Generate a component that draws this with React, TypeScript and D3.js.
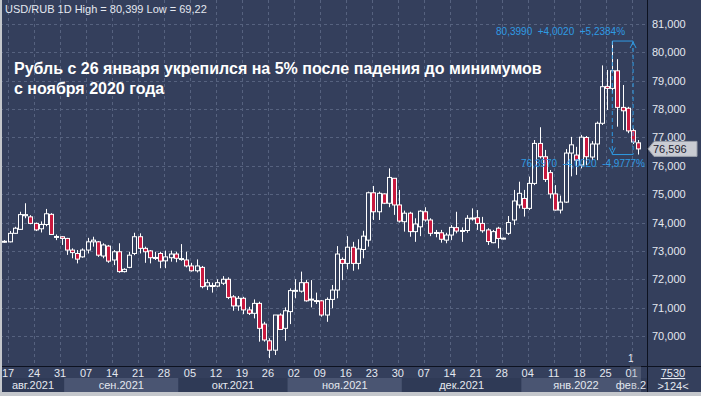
import * as d3 from "d3";

// daily USD/RUB candles, 16 Aug 2021 .. 2 Feb 2022 (trading days)
const startDay = new Date(2021, 7, 16);
const endDay = new Date(2022, 1, 3);

const open = [
  73.31, 73.32, 73.62, 73.76, 74.24, 74.2, 73.97, 73.78, 73.93, 74.29,
  73.49, 73.5, 73.44, 73.03, 72.91, 72.79, 73.03, 73.32, 73.32, 72.82,
  73.17, 72.68, 72.97, 72.27, 72.42, 72.91, 73.5, 73.09, 73.0, 72.76,
  72.91, 72.65, 72.76, 72.89, 72.72, 72.68, 72.47, 72.3, 72.42, 71.76,
  71.78, 71.76, 71.86, 72.0, 71.38, 71.06, 71.33, 70.92, 70.8, 71.15,
  70.42, 69.83, 69.5, 70.74, 70.27, 70.86, 71.58, 71.58, 71.88, 71.28,
  71.25, 71.24, 70.74, 71.29, 71.62, 72.7, 72.56, 73.13, 72.56, 73.05,
  73.38, 75.05, 74.38, 75.01, 74.68, 75.56, 74.62, 74.03, 74.33, 73.68,
  73.85, 74.38, 74.09, 73.64, 73.64, 73.38, 73.56, 73.82, 73.7, 73.72,
  74.14, 74.17, 73.97, 73.74, 73.29, 73.8, 73.44, 73.62, 74.09, 74.62,
  74.85, 74.5, 75.38, 76.79, 76.32, 75.76, 75.01, 74.44, 74.72, 76.45,
  76.38, 76.03, 77.0, 76.31, 76.77, 77.5, 78.8, 78.73, 79.35, 78.06,
  78.03, 77.24, 76.81,
];
const high = [
  73.38, 73.7, 73.85, 74.38, 74.68, 74.26, 74.0, 74.04, 74.48, 74.33,
  73.58, 73.52, 73.46, 73.09, 73.03, 73.09, 73.46, 73.5, 73.35, 73.27,
  73.21, 73.03, 73.27, 72.39, 72.97, 73.64, 73.62, 73.15, 73.03, 72.97,
  72.97, 73.01, 73.01, 72.97, 73.24, 72.97, 72.58, 72.7, 72.47, 72.0,
  71.88, 72.0, 72.11, 72.07, 71.44, 71.41, 71.38, 71.03, 71.29, 71.21,
  70.5, 69.92, 70.74, 70.8, 71.01, 71.68, 72.0, 72.27, 71.97, 71.97,
  71.53, 71.27, 71.36, 71.8, 73.17, 72.77, 73.52, 73.32, 73.41, 73.71,
  75.09, 75.29, 75.09, 75.03, 75.91, 75.56, 75.15, 74.42, 74.38, 74.15,
  74.44, 74.54, 74.15, 73.74, 73.74, 73.64, 73.91, 74.38, 73.83, 74.26,
  74.5, 74.44, 74.2, 73.8, 73.74, 73.85, 73.47, 74.23, 75.15, 75.44,
  75.15, 75.62, 76.91, 77.36, 76.56, 75.85, 75.32, 74.95, 76.59, 77.02,
  76.67, 77.09, 77.05, 76.87, 77.56, 79.54, 79.38, 80.399, 79.76, 78.85,
  78.08, 77.32, 76.91,
];
const low = [
  73.28, 73.3, 73.6, 73.74, 74.15, 73.94, 73.7, 73.65, 73.87, 73.56,
  73.38, 73.21, 72.86, 72.74, 72.56, 72.76, 72.91, 73.15, 72.79, 72.74,
  72.58, 72.5, 72.23, 72.24, 72.39, 72.85, 72.91, 72.58, 72.56, 72.68,
  72.39, 72.39, 72.62, 72.6, 72.65, 72.42, 72.27, 72.24, 71.68, 71.62,
  71.53, 71.72, 71.8, 71.3, 70.89, 70.89, 70.77, 70.74, 70.62, 69.8,
  69.8, 69.22, 69.33, 70.21, 69.83, 70.42, 71.33, 71.53, 71.21, 71.01,
  71.13, 70.68, 70.5, 70.98, 71.33, 71.97, 72.35, 72.3, 72.35, 72.74,
  73.15, 74.09, 74.09, 74.65, 74.54, 74.27, 74.0, 73.68, 73.5, 73.32,
  73.52, 74.03, 73.52, 73.48, 73.29, 73.27, 73.38, 73.62, 73.32, 73.64,
  74.07, 73.74, 73.64, 73.21, 73.27, 73.09, 73.4, 73.56, 73.91, 74.5,
  74.21, 74.44, 75.32, 76.26, 75.43, 74.85, 74.42, 74.32, 74.69, 75.63,
  75.68, 75.91, 76.03, 76.2, 76.2, 77.44, 77.97, 78.56, 77.38, 77.26,
  77.15, 76.77, 76.397,
];
const close = [
  73.34, 73.62, 73.8, 74.28, 74.28, 73.97, 73.74, 73.93, 74.31, 73.58,
  73.51, 73.44, 73.03, 72.94, 72.71, 73.03, 73.32, 73.38, 72.85, 73.21,
  72.64, 72.97, 72.27, 72.35, 72.85, 73.5, 73.09, 72.97, 72.76, 72.77,
  72.64, 72.79, 72.89, 72.74, 72.73, 72.47, 72.3, 72.47, 71.74, 71.88,
  71.77, 71.88, 72.0, 71.36, 71.06, 71.33, 70.92, 70.8, 71.15, 70.27,
  69.86, 69.5, 70.74, 70.23, 70.89, 71.6, 71.61, 71.88, 71.24, 71.3,
  71.23, 70.74, 71.29, 71.62, 72.89, 72.56, 73.13, 72.56, 73.07, 73.52,
  75.05, 74.38, 75.03, 74.68, 75.59, 74.62, 74.05, 74.33, 73.68, 73.95,
  74.4, 74.09, 73.62, 73.65, 73.41, 73.56, 73.83, 73.7, 73.72, 74.15,
  74.16, 73.97, 73.71, 73.33, 73.68, 73.44, 73.45, 74.0, 74.76, 75.03,
  74.5, 75.38, 76.79, 76.32, 75.52, 75.01, 74.44, 74.72, 76.45, 76.74,
  76.2, 77.01, 76.32, 76.77, 77.5, 78.79, 78.73, 79.35, 78.06, 77.94,
  77.23, 76.84, 76.596,
];

const yTicks = [70, 71, 72, 73, 74, 75, 76, 77, 78, 79, 80, 81];
const monthNames = ["янв", "фев", "мар", "апр", "май", "июн", "июл", "авг", "сен", "окт", "ноя", "дек"];

const titleLines = [
  "Рубль с 26 января укрепился на 5% после падения до минимумов",
  "с ноября 2020 года",
];
const header = "USD/RUB 1D High = 80,399 Low = 69,22";
const lastPrice = 76.596;

// measure annotation (from the 80,399 high down to 76,397)
const measureFrom = 117;
const measureTo = 121;
const measureHigh = 80.399;
const measureLow = 76.397;
const measureTop = "80,3990  +4,0020  +5,2384%";
const measureBottom = "76,3970  -4,0020  -4,9777%";

const W = 701;
const H = 396;
const plotRight = 647;
const plotBottom = 366;

const BG = "#343f5c";
const GRID = "#56627f";
const RED = "#c9193f";
const TXT = "#e4e8f0";
const BLUE = "#2f9be3";
const FONT = "'Liberation Sans', Arial, sans-serif";

const ru = d3.formatLocale({ decimal: ",", thousands: "\u00a0", grouping: [3], currency: ["", ""] });
const fmt3 = ru.format(".3f");

export default function App() {
  const days = d3.timeDay
    .range(startDay, endDay)
    .filter((d) => d.getDay() !== 0 && d.getDay() !== 6);
  const candles = days.map((d, i) => ({
    date: d,
    o: open[i],
    h: high[i],
    l: low[i],
    c: close[i],
  }));

  const x = d3
    .scaleBand<Date>()
    .domain(days)
    .range([2.4, 640.3])
    .paddingInner(0.22);
  const step = x.step();
  const cx = (d: Date) => (x(d) || 0) + x.bandwidth() / 2;

  const y = d3.scaleLinear().domain([70, 81]).range([336, 24]);

  const weekTicks = days.filter((d) => d.getDay() === 2);
  const months = d3.groups(days, (d) => d.getFullYear() * 12 + d.getMonth()).map(([, ds], i) => ({
    label: `${monthNames[ds[0].getMonth()]}.${ds[0].getFullYear()}`,
    x0: cx(ds[0]) - step / 2,
    x1: cx(ds[ds.length - 1]) + step / 2,
    i,
  }));
  const lastMonth = months.length - 1;

  const mx0 = cx(days[measureFrom]);
  const mx1 = cx(days[measureTo]);
  const myTop = y(measureHigh);
  const myBot = y(measureLow);
  const py = y(lastPrice);

  return (
    <div style={{ position: "absolute", left: 0, top: 0 }}>
      <svg width={W} height={H} style={{ display: "block", fontFamily: FONT }}>
        <defs>
          <clipPath id="plot">
            <rect x={0} y={0} width={plotRight} height={plotBottom} />
          </clipPath>
          <clipPath id="xaxis">
            <rect x={0} y={plotBottom} width={plotRight} height={H - plotBottom} />
          </clipPath>
        </defs>
        <rect width={W} height={H} fill={BG} />

        {/* grid */}
        <g stroke={GRID} strokeDasharray="3,3" strokeWidth={1}>
          {yTicks.map((t) => (
            <line key={t} x1={0} x2={plotRight} y1={Math.round(y(t)) + 0.5} y2={Math.round(y(t)) + 0.5} />
          ))}
          {weekTicks.map((d) => (
            <line key={+d} x1={Math.round(cx(d) - 1.5) + 0.5} x2={Math.round(cx(d) - 1.5) + 0.5} y1={0} y2={plotBottom} />
          ))}
        </g>

        {/* candles */}
        <g clipPath="url(#plot)">
          {candles.map((d) => {
            const up = d.c >= d.o;
            const xc = Math.round(cx(d.date)) + 0.5;
            const top = y(Math.max(d.o, d.c));
            const bot = y(Math.min(d.o, d.c));
            return (
              <g key={+d.date}>
                <line x1={xc} x2={xc} y1={y(d.h)} y2={y(d.l)} stroke="#ffffff" strokeWidth={1} />
                <rect
                  x={xc - 2}
                  y={top}
                  width={4}
                  height={Math.max(1, bot - top)}
                  fill={up ? BG : RED}
                  stroke="#ffffff"
                  strokeWidth={1}
                />
              </g>
            );
          })}
        </g>

        {/* measure annotation */}
        <g stroke={BLUE} strokeWidth={1} fill="none">
          <line x1={mx0} x2={mx1} y1={myTop} y2={myTop} />
          <line x1={mx0} x2={mx1} y1={myBot} y2={myBot} />
          <line x1={mx0} x2={mx0} y1={myTop} y2={myBot} strokeDasharray="4,3" />
          <line x1={mx1} x2={mx1} y1={myTop} y2={myBot} strokeDasharray="4,3" />
          <path d={`M${mx1 - 3},${myTop + 7} L${mx1},${myTop + 1} L${mx1 + 3},${myTop + 7}`} />
          <path d={`M${mx0 - 3},${myBot - 7} L${mx0},${myBot - 1} L${mx0 + 3},${myBot - 7}`} />
        </g>
        <text x={mx1 - 8} y={myTop - 6} textAnchor="end" fontSize={10} fill={BLUE} style={{ whiteSpace: "pre" }}>
          {measureTop}
        </text>
        <text x={plotRight - 2} y={myBot + 12} textAnchor="end" fontSize={10} fill={BLUE} style={{ whiteSpace: "pre" }}>
          {measureBottom}
        </text>

        {/* header + title */}
        <text x={5} y={13} fontSize={11} fill={TXT}>{header}</text>
        {titleLines.map((t, i) => (
          <text key={i} x={14} y={74 + i * 20} fontSize={16} fontWeight="bold" fill="#ffffff">
            {t}
          </text>
        ))}

        {/* right axis */}
        <rect x={plotRight} y={0} width={W - plotRight} height={H} fill={BG} />
        <line x1={plotRight + 0.5} x2={plotRight + 0.5} y1={0} y2={H} stroke="#0d1220" strokeWidth={1} />
        {yTicks.map((t) => (
          <text key={t} x={652} y={y(t) + 4} fontSize={11} fill={TXT}>
            {fmt3(t)}
          </text>
        ))}
        <path
          d={`M${plotRight + 1},${py} L${plotRight + 7},${py - 7.5} H697 V${py + 7.5} H${plotRight + 7} Z`}
          fill="#c9ccd3"
          stroke="#9aa0ab"
        />
        <text x={653} y={py + 4} fontSize={11} fill="#1c2130">{fmt3(lastPrice)}</text>

        {/* x axis */}
        <line x1={0} x2={W} y1={plotBottom + 0.5} y2={plotBottom + 0.5} stroke="#0d1220" />
        <g clipPath="url(#xaxis)">
          {months.map((m) => (
            <g key={m.label}>
              <rect
                x={m.x0}
                y={378}
                width={m.i === lastMonth ? plotRight - m.x0 : m.x1 - m.x0}
                height={14}
                fill={m.i % 2 === 0 ? "#2f3a56" : "#4a5572"}
              />
              {m.i === lastMonth ? (
                // the last month label is cut off by the price axis
                <text x={plotRight - 1} y={389} textAnchor="end" fontSize={11} fill={TXT}>
                  {m.label.slice(0, 5)}
                </text>
              ) : (
                <text x={(m.x0 + m.x1) / 2} y={389} textAnchor="middle" fontSize={11} fill={TXT}>
                  {m.label}
                </text>
              )}
            </g>
          ))}
          {weekTicks.map((d) => (
            <text key={+d} x={cx(d) - 1.5} y={377} textAnchor="middle" fontSize={11} fill={TXT}>
              {d3.timeFormat("%d")(d)}
            </text>
          ))}
          <rect x={630} y={358} width={11} height={38} fill="#8a93a6" opacity={0.3} />
        </g>
        <text x={628} y={362} fontSize={10} fill={TXT}>1</text>
        <text x={673} y={377} textAnchor="middle" fontSize={11} fill={TXT} textDecoration="underline">7530</text>
        <text x={673} y={390} textAnchor="middle" fontSize={11} fill={TXT}>{">124<"}</text>

        {/* frame */}
        <rect x={0} y={0} width={2} height={H} fill="#c4c7cc" />
        <rect x={0} y={392} width={W} height={4} fill="#c4c7cc" />
      </svg>
    </div>
  );
}
